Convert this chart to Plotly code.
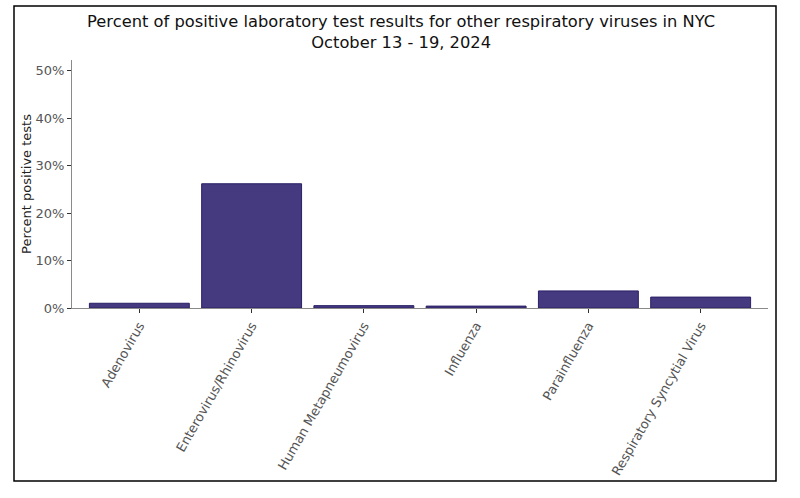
import plotly.graph_objects as go

categories = ["Adenovirus", "Enterovirus/Rhinovirus", "Human Metapneumovirus",
              "Influenza", "Parainfluenza", "Respiratory Syncytial Virus"]
percent_positive = [0.010, 0.262, 0.005, 0.004, 0.036, 0.023]
y_ticks = [0, 0.1, 0.2, 0.3, 0.4, 0.5]
y_tick_labels = ["0%", "10%", "20%", "30%", "40%", "50%"]

W, H = 800, 498
L, R, T, B = 72, 32, 60, 190
pw, ph = W - L - R, H - T - B

def px(x):
    return (x - L) / pw

def py(y):
    return (H - B - y) / ph

fig = go.Figure(go.Bar(
    x=categories, y=percent_positive, width=0.89,
    marker=dict(color="#453a80", line=dict(color="#2a2066", width=1)),
    hoverinfo="skip",
))

fig.update_layout(
    width=W, height=H,
    margin=dict(l=L, r=R, t=T, b=B),
    paper_bgcolor="white", plot_bgcolor="white",
    font=dict(family="DejaVu Sans", size=13, color="#555555"),
    showlegend=False,
    title=dict(
        text="Percent of positive laboratory test results for other respiratory viruses in NYC<br>October 13 - 19, 2024",
        x=px(421), xanchor="center", yref="container", y=1 - 27 / H, yanchor="middle",
        font=dict(family="DejaVu Sans", size=16.3, color="#111111"),
    ),
    xaxis=dict(
        range=[-0.6, 5.6], tickangle=-60,
        showline=True, linecolor="#8a8a8a", linewidth=1,
        ticks="outside", ticklen=4, tickcolor="#333333",
        showgrid=False, zeroline=False,
        tickfont=dict(size=13, color="#555555"),
    ),
    yaxis=dict(
        range=[0, 0.523], tickvals=y_ticks, ticktext=y_tick_labels,
        showline=True, linecolor="#8a8a8a", linewidth=1,
        ticks="outside", ticklen=4, tickcolor="#333333",
        showgrid=False, zeroline=False,
        tickfont=dict(size=13, color="#555555"),
        title=dict(text="Percent positive tests", font=dict(size=13, color="#222222"), standoff=0),
    ),
    shapes=[dict(type="rect", xref="paper", yref="paper",
                 x0=px(14), x1=px(776), y0=py(481), y1=py(6),
                 line=dict(color="black", width=1.5), fillcolor="rgba(0,0,0,0)", layer="below")],
)

fig.write_html("out.html", config={"displayModeBar": False},
               post_script="document.body.style.margin='0px';")
